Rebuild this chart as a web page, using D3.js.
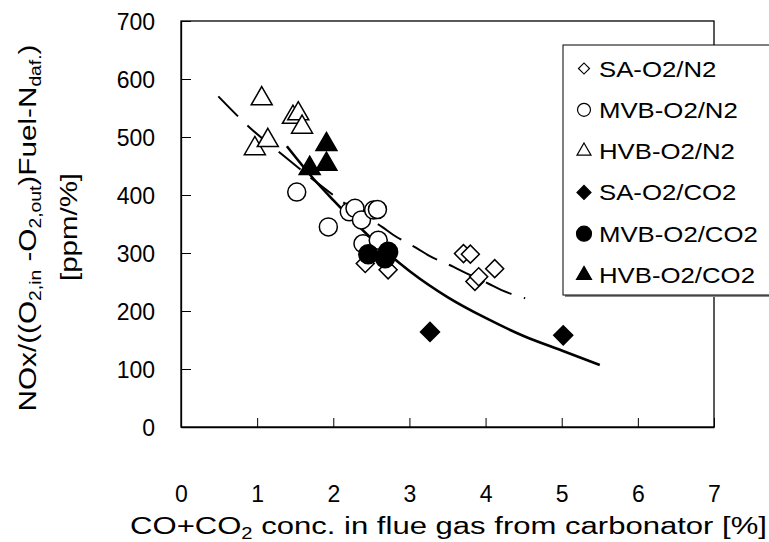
<!DOCTYPE html>
<html><head><meta charset="utf-8">
<script src="https://cdn.jsdelivr.net/npm/d3@7"></script>
<style>
body{margin:0;background:#fff}
svg text{font-family:"Liberation Sans",Arial,sans-serif;fill:#000}
</style>
</head><body>
<svg id="chart" width="769" height="542"></svg>
<script>
// ---- data ----
const xTicks = [0, 1, 2, 3, 4, 5, 6, 7];
const yTicks = [0, 100, 200, 300, 400, 500, 600, 700];

const saN2X = [2.42, 2.72, 3.71, 3.80, 3.86, 3.91, 4.12];
const saN2Y = [282, 271, 299, 298, 251, 259, 273];

const mvbN2X = [1.52, 1.935, 2.21, 2.285, 2.37, 2.53, 2.58, 2.39, 2.59];
const mvbN2Y = [405, 345, 371, 377, 357, 374, 375, 316, 322];

const hvbN2X = [1.06, 0.97, 1.14, 1.47, 1.54, 1.59];
const hvbN2Y = [566, 480, 494, 534, 540, 517];

const saCO2X = [3.27, 5.02];
const saCO2Y = [164, 158];

const mvbCO2X = [2.46, 2.68, 2.72];
const mvbCO2Y = [298, 291, 302];

const hvbCO2X = [1.91, 1.91, 1.69];
const hvbCO2Y = [487, 453, 446];

const solidX = [1.39, 1.74, 2.0, 2.5, 3.0, 3.5, 4.0, 4.5, 5.0, 5.5];
const solidY = [484, 428, 391, 325, 269, 224, 188, 157, 132, 107];

const dashX = [0.49, 0.93, 1.26, 2.35, 2.64, 2.79, 3.10, 3.25, 3.58, 3.75, 4.04, 4.21, 4.52];
const dashY = [570, 513, 477, 368, 345, 331, 308, 296, 276, 265, 247, 236, 222];

const legendLabels = ["SA-O2/N2", "MVB-O2/N2", "HVB-O2/N2", "SA-O2/CO2", "MVB-O2/CO2", "HVB-O2/CO2"];

// ---- layout ----
const svg = d3.select("#chart");
const L = 181, R = 714, T = 21, B = 427;
const x = d3.scaleLinear().domain([0, 7]).range([L, R]);
const y = d3.scaleLinear().domain([0, 700]).range([B, T]);
const FS = 23;

// frame
svg.append("rect").attr("x", L).attr("y", T).attr("width", R - L).attr("height", B - T)
  .attr("fill", "none").attr("stroke", "#000").attr("stroke-width", 1.3);

// axes
const gx = svg.append("g").attr("transform", `translate(0,${B})`)
  .call(d3.axisBottom(x).tickValues(xTicks).tickSizeInner(-9).tickSizeOuter(0).tickPadding(59).tickFormat(d3.format("d")));
const gy = svg.append("g").attr("transform", `translate(${L},0)`)
  .call(d3.axisLeft(y).tickValues(yTicks).tickSizeInner(-10).tickSizeOuter(0).tickPadding(26).tickFormat(d3.format("d")));
[gx, gy].forEach(g => {
  g.select(".domain").attr("stroke", "#000").attr("stroke-width", 1.3);
  g.selectAll(".tick line").attr("stroke", "#000").attr("stroke-width", 1);
  g.selectAll(".tick text").attr("font-size", FS).attr("font-family", "Liberation Sans, Arial, sans-serif").attr("fill", "#000");
});
gy.selectAll(".tick text").attr("dy", "0.36em");

// helper to fit text width with horizontal scale
function fitText(g, target) {
  const t = g.select("text");
  const w = t.node().getBBox().width;
  t.attr("transform", `scale(${target / w},1)`);
}

// x title
const xt = svg.append("g").attr("transform", `translate(${(130 + 767) / 2},534)`);
const xtt = xt.append("text").attr("text-anchor", "middle").attr("font-size", 24);
xtt.append("tspan").text("CO+CO");
xtt.append("tspan").attr("font-size", 24 * 0.65).attr("dy", 5).text("2");
xtt.append("tspan").attr("dy", -5).text(" conc. in flue gas from carbonator [%]");
fitText(xt, 637);

// y title line 1
const yt1 = svg.append("g").attr("transform", `translate(36,228) rotate(-90)`);
const yt1t = yt1.append("text").attr("text-anchor", "middle").attr("font-size", 24);
yt1t.append("tspan").text("NOx/((O");
yt1t.append("tspan").attr("font-size", 24 * 0.65).attr("dy", 5).text("2,in");
yt1t.append("tspan").attr("dy", -5).text(" -O");
yt1t.append("tspan").attr("font-size", 24 * 0.65).attr("dy", 5).text("2,out");
yt1t.append("tspan").attr("dy", -5).text(")Fuel-N");
yt1t.append("tspan").attr("font-size", 24 * 0.65).attr("dy", 5).text("daf.");
yt1t.append("tspan").attr("dy", -5).text(")");
fitText(yt1, 367);

const yt2 = svg.append("g").attr("transform", `translate(77,227) rotate(-90)`);
yt2.append("text").attr("text-anchor", "middle").attr("font-size", 24).text("[ppm/%]");
fitText(yt2, 108);

// lines
const lineGen = d3.line().x(d => x(d[0])).y(d => y(d[1])).curve(d3.curveMonotoneX);
svg.append("path").datum(dashX.map((v, i) => [v, dashY[i]])).attr("d", lineGen)
  .attr("fill", "none").attr("stroke", "#000").attr("stroke-width", 2).attr("stroke-dasharray", "28,13");
svg.append("path").datum(solidX.map((v, i) => [v, solidY[i]])).attr("d", lineGen)
  .attr("fill", "none").attr("stroke", "#000").attr("stroke-width", 2.6);

// markers
const sym = {
  diamond: (s) => d3.symbol().type(d3.symbolSquare).size(s * s / 2)(),
  circle: (s) => d3.symbol().type(d3.symbolCircle).size(Math.PI * s * s / 4)(),
  triangle: (s) => d3.symbol().type(d3.symbolTriangle).size(Math.sqrt(3) / 4 * s * s)()
};
const series = [
  {xs: saN2X, ys: saN2Y, shape: "diamond", fill: "#fff", size: 18, ls: 11},
  {xs: mvbN2X, ys: mvbN2Y, shape: "circle", fill: "#fff", size: 18, ls: 13},
  {xs: hvbN2X, ys: hvbN2Y, shape: "triangle", fill: "#fff", size: 21, ls: 14},
  {xs: saCO2X, ys: saCO2Y, shape: "diamond", fill: "#000", size: 19, ls: 14},
  {xs: mvbCO2X, ys: mvbCO2Y, shape: "circle", fill: "#000", size: 19, ls: 15},
  {xs: hvbCO2X, ys: hvbCO2Y, shape: "triangle", fill: "#000", size: 21, ls: 15}
];
series.forEach(s => {
  svg.append("g").selectAll("path").data(s.xs.map((v, i) => [v, s.ys[i]])).join("path")
    .attr("d", sym[s.shape](s.size))
    .attr("transform", d => `translate(${x(d[0])},${y(d[1])})` + (s.shape === "diamond" ? " rotate(45)" : ""))
    .attr("fill", s.fill).attr("stroke", "#000").attr("stroke-width", 1.5);
});

// legend
const lg = svg.append("g");
lg.append("rect").attr("x", 565).attr("y", 47).attr("width", 220).attr("height", 250).attr("fill", "#888");
lg.append("rect").attr("x", 563).attr("y", 45).attr("width", 220).attr("height", 250)
  .attr("fill", "#fff").attr("stroke", "#000").attr("stroke-width", 1);
series.forEach((s, i) => {
  const cy = 68.5 + i * 41.3;
  lg.append("path").attr("d", sym[s.shape](s.ls))
    .attr("transform", `translate(584,${cy})` + (s.shape === "diamond" ? " rotate(45)" : ""))
    .attr("fill", s.fill).attr("stroke", "#000").attr("stroke-width", 1.2);
  const tg = lg.append("g").attr("transform", `translate(599,${cy + 8})`);
  tg.append("text").attr("font-size", FS).text(legendLabels[i]).attr("transform", "scale(1.12,1)");
});
</script>
</body></html>
